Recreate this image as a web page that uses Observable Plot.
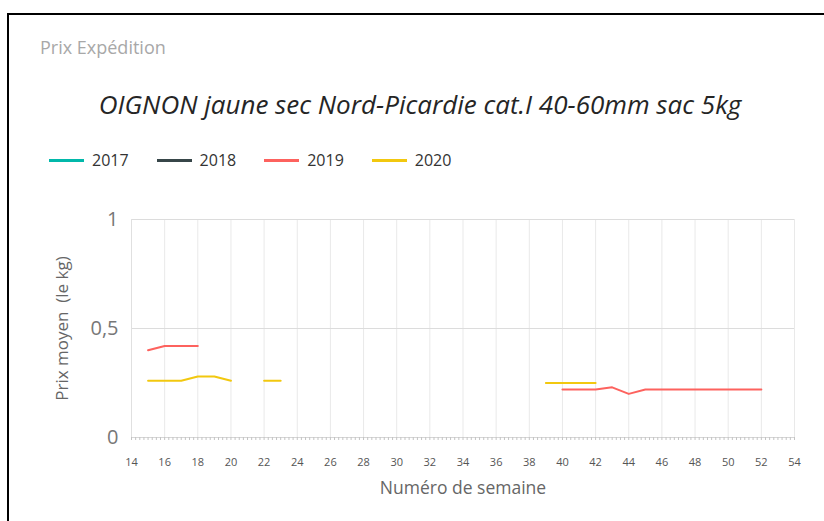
<!DOCTYPE html>
<html><head><meta charset="utf-8">
<script src="https://cdn.jsdelivr.net/npm/d3@7"></script>
<script src="https://cdn.jsdelivr.net/npm/@observablehq/plot@0.6"></script>
<style>
body{margin:0;background:#fff;font-family:"Open Sans",sans-serif;}
#wrap{position:relative;width:824px;height:521px;overflow:hidden;}
#frame{position:absolute;left:7px;top:13px;width:860px;height:560px;border:2px solid #000;}
#sub{position:absolute;left:40px;top:35px;font-size:18px;line-height:25px;color:#a8a8a8;}
#title{position:absolute;left:0;width:840px;text-align:center;top:86px;font-size:26px;line-height:36px;font-style:italic;color:#252525;}
#legend{position:absolute;left:49px;top:149px;display:flex;align-items:center;font-size:16px;color:#333;}
#legend .it{display:flex;align-items:center;margin-right:28px;}
#legend .sw{width:35px;height:3px;margin-right:8px;}
#chart{position:absolute;left:0;top:200px;}
</style></head>
<body>
<div id="wrap">
<div id="frame"></div>
<div id="sub">Prix Expédition</div>
<div id="title">OIGNON jaune sec Nord-Picardie cat.I 40-60mm sac 5kg</div>
<div id="legend"></div>
<div id="chart"></div>
</div>
<script>
const years = ["2017","2018","2019","2020"];
const colors = ["#01B8AA","#374649","#FD625E","#F2C80F"];
const weeks = [15,16,17,18,19,20,21,22,23,24,25,26,27,28,29,30,31,32,33,34,35,36,37,38,39,40,41,42,43,44,45,46,47,48,49,50,51,52];
const prix2017 = [];
const prix2018 = [];
const prix2019 = [0.40,0.42,0.42,0.42,
  null,null,null,null,null,null,null,null,null,null,null,null,null,null,null,null,null,null,null,null,null,
  0.22,0.22,0.22,0.23,0.20,0.22,0.22,0.22,0.22,0.22,0.22,0.22,0.22];
const prix2020 = [0.26,0.26,0.26,0.28,0.28,0.26,null,0.26,0.26,
  null,null,null,null,null,null,null,null,null,null,null,null,null,null,null,
  0.25,0.25,0.25,0.25,
  null,null,null,null,null,null,null,null,null,null];
const xTicks = [14,16,18,20,22,24,26,28,30,32,34,36,38,40,42,44,46,48,50,52,54];
const yTicks = [0,0.5,1];
const yTickLabels = ["0","0,5","1"];
const xTitle = "Numéro de semaine";
const yTitle = "Prix moyen\u00a0\u00a0(le kg)";

const series = [prix2017, prix2018, prix2019, prix2020];
const data = [];
series.forEach((s,i)=> s.forEach((v,j)=> data.push({annee: years[i], semaine: weeks[j], prix: v})));

const leg = document.getElementById("legend");
years.forEach((y,i)=>{
  const it = document.createElement("div"); it.className="it";
  const sw = document.createElement("div"); sw.className="sw"; sw.style.background=colors[i];
  const t = document.createElement("span"); t.textContent=y;
  it.append(sw,t); leg.append(it);
});

const minor = [];
for (let w = 14; w <= 54.001; w += 0.25) minor.push(w);

const chart = Plot.plot({
  width: 824, height: 321,
  marginLeft: 131, marginRight: 30, marginTop: 19, marginBottom: 84,
  style: {fontFamily: "'Open Sans', sans-serif", background: "transparent", overflow: "visible"},
  x: {domain: [14, 54]},
  y: {domain: [0, 1]},
  color: {domain: years, range: colors},
  marks: [
    Plot.gridX(xTicks.slice(1), {stroke: "#e9e9e9", strokeOpacity: 1, strokeWidth: 1}),
    Plot.gridY([0.5, 1], {stroke: "#dcdcdc", strokeOpacity: 1, strokeWidth: 1.2}),
    Plot.ruleX([14], {stroke: "#e0e0e0", strokeWidth: 1}),
    Plot.ruleY([0], {stroke: "#d6d6d6", strokeWidth: 1}),
    Plot.axisX(minor, {tickSize: 3, tickFormat: () => "", stroke: "#c4c4c4", label: null}),
    Plot.axisX(xTicks, {tickSize: 0, tickPadding: 21, fontSize: 11, fill: "#555", label: null}),
    Plot.axisY(yTicks, {tickSize: 0, tickPadding: 13, fontSize: 20, fill: "#777",
      tickFormat: d => yTickLabels[yTicks.indexOf(d)], label: null}),
    Plot.text([xTitle], {frameAnchor: "bottom", dy: 56, fontSize: 17.5, fill: "#666"}),
    Plot.text([yTitle], {frameAnchor: "left", dx: -69, rotate: -90, textAnchor: "middle", fontSize: 17, fill: "#666"}),
    Plot.line(data, {x: "semaine", y: "prix", z: "annee", stroke: "annee", strokeWidth: 2})
  ]
});
document.getElementById("chart").append(chart);
</script>
</body></html>
